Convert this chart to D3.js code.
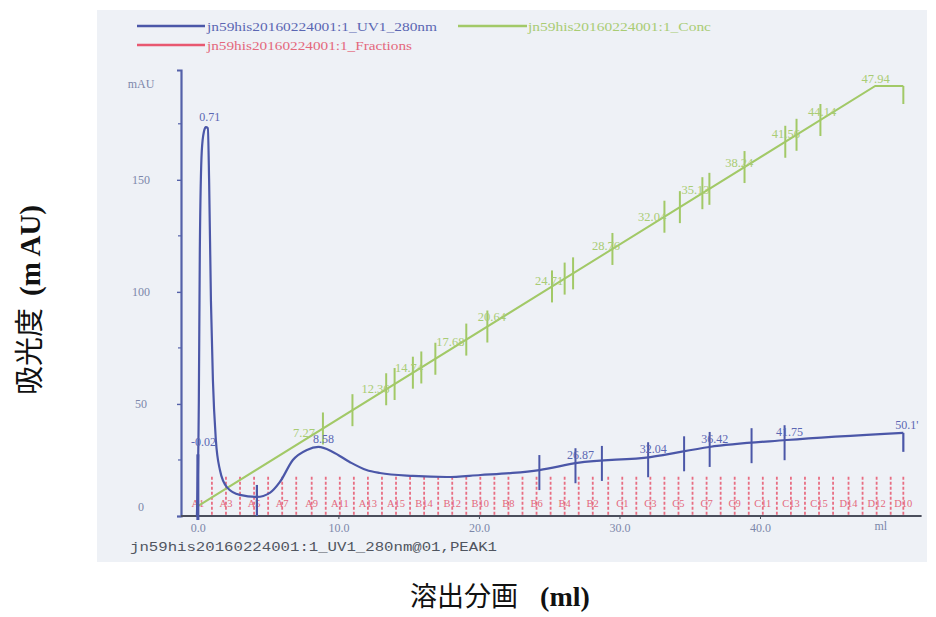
<!DOCTYPE html>
<html><head><meta charset="utf-8">
<script src="https://cdn.jsdelivr.net/npm/d3@7"></script>
<style>
html,body{margin:0;padding:0;background:#fff;}
svg{display:block;}
</style></head>
<body>
<svg id="chart" width="936" height="617"></svg>
<script>
// ---------------- DATA ----------------
// UV 280 nm trace: elution volume (ml) and absorbance (mAU)
const uvVolume = [-0.07, 0.07, 0.14, 0.28, 0.43, 0.57, 0.71, 0.8, 0.93, 1.07, 1.28, 1.57, 2.06, 2.99, 4.2, 5.12, 5.84, 6.76, 7.76, 8.58, 9.6, 10.8, 12.0, 12.95, 15.3, 17.7, 20.1, 22.4, 24.3, 27.0, 32.2, 36.4, 41.9, 50.2];
const uvValue  = [0, 51.8, 118.8, 163, 171.5, 173.5, 173, 150, 96, 60.7, 34, 20.5, 12.9, 9.4, 8.5, 10.3, 15.2, 25, 29.5, 30.8, 28.6, 24.1, 20.5, 19.2, 17.9, 17.4, 18.3, 19.2, 20.5, 23.7, 26.3, 30.8, 33.9, 37.1];
// UV peak labels (retention, ml)
const uvPeakLabels = ["-0.02", "0.71", "8.58", "26.87", "32.04", "36.42", "41.75", "50.1'"];
const uvPeakPos    = [-0.02, 0.71, 8.58, 26.87, 32.04, 36.42, 41.75, 50.1];
// UV peak / boundary markers (ml)
const uvMarks = [24.3, 26.87, 28.75, 32.04, 34.6, 36.42, 39.4, 41.75];
const injectionMark = 0.0;
const baselineMark = 4.2;

// Concentration (%B) gradient
const concVolume = [0, 48.2, 50.2];
const concValue  = [2, 100, 100];
const concMarks = [8.9, 11.0, 13.4, 14.0, 15.3, 15.9, 16.9, 19.1, 20.6, 25.2, 26.1, 26.7, 29.5, 33.2, 34.3, 35.9, 36.4, 38.9, 41.8, 42.6, 44.3];
const concLabels = ["7.27", "12.36", "14.74", "17.68", "20.64", "24.71", "28.76", "32.04", "35.13", "38.24", "41.56", "44.14", "47.94"];

// Fractions (ml) and names
const fractionVolume = [0.0, 1.0, 2.0, 3.0, 4.0, 5.0, 6.0, 7.0, 8.1, 9.1, 10.1, 11.1, 12.1, 13.1, 14.1, 15.1, 16.1, 17.1, 18.1, 19.1, 20.1, 21.1, 22.1, 23.1, 24.1, 25.1, 26.1, 27.1, 28.1, 29.2, 30.2, 31.2, 32.2, 33.2, 34.2, 35.2, 36.2, 37.2, 38.2, 39.2, 40.2, 41.2, 42.2, 43.2, 44.2, 45.2, 46.3, 47.3, 48.3, 49.3, 50.2];
const fractionNames = ["A1","A2","A3","A4","A5","A6","A7","A8","A9","A10","A11","A12","A13","A14","A15",
  "B15","B14","B13","B12","B11","B10","B9","B8","B7","B6","B5","B4","B3","B2","B1",
  "C1","C2","C3","C4","C5","C6","C7","C8","C9","C10","C11","C12","C13","C14","C15",
  "D15","D14","D13","D12","D11","D10"];

// Axis ticks
const yTicks = [0, 50, 100, 150];
const yMinorTicks = [25, 75, 125, 175];
const xTicks = [0, 10, 20, 30, 40];

// Text
const legendItems = [
  {name: "jn59his20160224001:1_UV1_280nm", key: "uv"},
  {name: "jn59his20160224001:1_Conc", key: "conc"},
  {name: "jn59his20160224001:1_Fractions", key: "frac"}
];
const footerText = "jn59his20160224001:1_UV1_280nm@01,PEAK1";
const yTitle = ["吸光度", "(m AU)"];
const xTitle = ["溶出分画", "(ml)"];

// ---------------- DRAW ----------------
const C = {
  uv: "#4b57a8", conc: "#a2c967", frac: "#e85870",
  uvText: "#5b67b3", concText: "#a9cc74", fracText: "#e4687c",
  axisY: "#5461a9", axisX: "#4a4e5c", tick: "#7c87aa", panel: "#eef1f6"
};
const serif = "'Liberation Serif','Times New Roman',serif";
const cjk = "'Noto Sans CJK JP','Noto Sans CJK SC',sans-serif";
const svg = d3.select("#chart");

// panel
svg.append("rect").attr("x", 97).attr("y", 10).attr("width", 830).attr("height", 552).attr("fill", C.panel);

const x = d3.scaleLinear().domain([-1.2, 51.5]).range([181, 921.6]);
const y = d3.scaleLinear().domain([0, 199]).range([516, 70]);
const yc = d3.scaleLinear().domain([0, 100]).range([514.6, 86]);

const uvData = uvVolume.map((v, i) => ({v, m: uvValue[i]}));
const concData = concVolume.map((v, i) => ({v, c: concValue[i]}));
const interp = (data, key) => v => {
  const i = d3.bisector(d => d.v).left(data, v);
  if (i <= 0) return data[0][key];
  if (i >= data.length) return data[data.length - 1][key];
  const a = data[i - 1], b = data[i];
  return a[key] + (b[key] - a[key]) * (v - a.v) / (b.v - a.v);
};
const uvAt = interp(uvData, "m");
const concAt = interp(concData, "c");

// Y axis
const yAxis = d3.axisLeft(y).tickValues(yTicks).tickSize(4).tickPadding(36).tickFormat(d3.format("d"));
const gy = svg.append("g").attr("transform", `translate(${x(-1.2)},0)`).call(yAxis);
gy.select(".domain").attr("stroke", C.axisY).attr("stroke-width", 2.2);
gy.selectAll(".tick line").attr("stroke", C.axisY).attr("stroke-width", 1.4);
gy.selectAll(".tick text").attr("fill", C.tick).attr("font-family", serif).attr("font-size", 12)
  .attr("text-anchor", "middle")
  .attr("dy", d => d === 0 ? "-0.5em" : "0.32em");
svg.append("g").selectAll("line").data(yMinorTicks).join("line")
  .attr("x1", x(-1.2) - 3).attr("x2", x(-1.2)).attr("y1", d => y(d)).attr("y2", d => y(d))
  .attr("stroke", C.axisY).attr("stroke-width", 1.2);
svg.append("text").attr("x", 141).attr("y", 88).attr("text-anchor", "middle")
  .attr("font-family", serif).attr("font-size", 12).attr("fill", C.tick).text("mAU");

// X axis
const xAxis = d3.axisBottom(x).tickValues(xTicks).tickSize(3).tickPadding(4).tickFormat(d3.format(".1f"));
const gx = svg.append("g").attr("transform", `translate(0,${y(0)})`).call(xAxis);
gx.select(".domain").attr("stroke", C.axisX).attr("stroke-width", 2.2).attr("d", `M${x(-1.2)},0H${x(51.5)}`);
gx.selectAll(".tick line").attr("stroke", C.axisX);
gx.selectAll(".tick text").attr("fill", C.tick).attr("font-family", serif).attr("font-size", 12);
svg.append("text").attr("x", x(48.6)).attr("y", 530).attr("text-anchor", "middle")
  .attr("font-family", serif).attr("font-size", 12).attr("fill", C.tick).text("ml");

// Fractions
const fg = svg.append("g");
fg.selectAll("line").data(fractionVolume).join("line")
  .attr("x1", d => x(d)).attr("x2", d => x(d))
  .attr("y1", y(17.5)).attr("y2", y(0))
  .attr("stroke", C.frac).attr("stroke-width", 1.8).attr("stroke-dasharray", "3,2").attr("opacity", 0.85);
fg.selectAll("text").data(fractionVolume.map((v, i) => ({v, n: fractionNames[i], i})).filter(d => d.i % 2 === 0))
  .join("text")
  .attr("x", d => x(d.v)).attr("y", y(4))
  .attr("text-anchor", "middle").attr("font-family", serif).attr("font-size", 10.5)
  .attr("fill", C.fracText).text(d => d.n);

// Conc line
const concLine = d3.line().x(d => x(d.v)).y(d => yc(d.c));
svg.append("path").datum(concData).attr("d", concLine).attr("fill", "none")
  .attr("stroke", C.conc).attr("stroke-width", 2);
svg.append("line").attr("x1", x(50.2)).attr("x2", x(50.2)).attr("y1", yc(100)).attr("y2", yc(100) + 18)
  .attr("stroke", C.conc).attr("stroke-width", 2);
svg.append("g").selectAll("line").data(concMarks).join("line")
  .attr("x1", d => x(d)).attr("x2", d => x(d))
  .attr("y1", d => yc(concAt(d)) - 16).attr("y2", d => yc(concAt(d)) + 16)
  .attr("stroke", C.conc).attr("stroke-width", 2);
svg.append("g").selectAll("text").data(concLabels).join("text")
  .attr("x", d => x(+d) + 4).attr("y", d => yc(concAt(+d + 0.3)) - 3)
  .attr("text-anchor", "middle").attr("font-family", serif).attr("font-size", 12.5)
  .attr("fill", C.concText).text(d => d);

// UV line
const uvLine = d3.line().x(d => x(d.v)).y(d => y(d.m)).curve(d3.curveMonotoneX);
svg.append("path").datum(uvData).attr("d", uvLine).attr("fill", "none")
  .attr("stroke", C.uv).attr("stroke-width", 2.2);
// end bracket
const endV = uvVolume[uvVolume.length - 1];
svg.append("line").attr("x1", x(endV)).attr("x2", x(endV))
  .attr("y1", y(uvAt(endV))).attr("y2", y(uvAt(endV)) + 19)
  .attr("stroke", C.uv).attr("stroke-width", 2.2);
// peak markers
svg.append("g").selectAll("line").data(uvMarks).join("line")
  .attr("x1", d => x(d)).attr("x2", d => x(d))
  .attr("y1", d => y(uvAt(d)) - 15).attr("y2", d => y(uvAt(d)) + 20)
  .attr("stroke", C.uv).attr("stroke-width", 2);
// injection mark
svg.append("line").attr("x1", x(injectionMark)).attr("x2", x(injectionMark))
  .attr("y1", y(27.5)).attr("y2", y(0) + 4).attr("stroke", C.uv).attr("stroke-width", 3);
svg.append("line").attr("x1", x(baselineMark)).attr("x2", x(baselineMark))
  .attr("y1", y(uvAt(baselineMark)) - 12).attr("y2", y(0)).attr("stroke", C.uv).attr("stroke-width", 2.2);
// peak labels
svg.append("g").selectAll("text").data(uvPeakLabels).join("text")
  .attr("x", (d, i) => x(uvPeakPos[i]) + (i === 0 ? 6 : i === 1 ? 2 : 5))
  .attr("y", (d, i) => i === 0 ? y(27.5) - 8 : y(uvAt(uvPeakPos[i])) - (i === 1 ? 7 : 4))
  .attr("text-anchor", "middle").attr("font-family", serif).attr("font-size", 12)
  .attr("fill", C.uvText).text(d => d);

// Legend
const lg = svg.append("g");
const legendPos = [
  {x1: 137, x2: 205, y: 26, tx: 207, tl: 230, col: C.uv, tcol: C.uvText},
  {x1: 458, x2: 527, y: 26, tx: 528, tl: 183, col: C.conc, tcol: C.concText},
  {x1: 137, x2: 205, y: 45, tx: 207, tl: 205, col: C.frac, tcol: C.fracText}
];
legendItems.forEach((it, i) => {
  const p = legendPos[i];
  lg.append("line").attr("x1", p.x1).attr("x2", p.x2).attr("y1", p.y).attr("y2", p.y)
    .attr("stroke", p.col).attr("stroke-width", 2.5);
  lg.append("text").attr("x", p.tx).attr("y", p.y + 5).attr("font-family", serif).attr("font-size", 12)
    .attr("textLength", p.tl).attr("lengthAdjust", "spacingAndGlyphs")
    .attr("fill", p.tcol).text(it.name);
});

// Footer
svg.append("text").attr("x", 130).attr("y", 551).attr("font-family", "'Liberation Mono','DejaVu Sans Mono',monospace")
  .attr("font-size", 12).attr("textLength", 367).attr("lengthAdjust", "spacingAndGlyphs")
  .attr("fill", "#505560").text(footerText);

// Axis titles (outside panel)
const yt = svg.append("text").attr("transform", "translate(40,300) rotate(-90)").attr("text-anchor", "middle")
  .attr("fill", "#111");
yt.append("tspan").attr("font-family", cjk).attr("font-size", 29).attr("font-weight", 400).text(yTitle[0]);
yt.append("tspan").attr("dx", 12).attr("font-family", serif).attr("font-size", 29).attr("font-weight", "bold").text(yTitle[1]);
const xt = svg.append("text").attr("x", 500).attr("y", 606).attr("text-anchor", "middle")
  .attr("fill", "#111");
xt.append("tspan").attr("font-family", cjk).attr("font-size", 27).attr("font-weight", 400).text(xTitle[0]);
xt.append("tspan").attr("dx", 22).attr("font-family", serif).attr("font-size", 28).attr("font-weight", "bold").text(xTitle[1]);
</script>
</body></html>
